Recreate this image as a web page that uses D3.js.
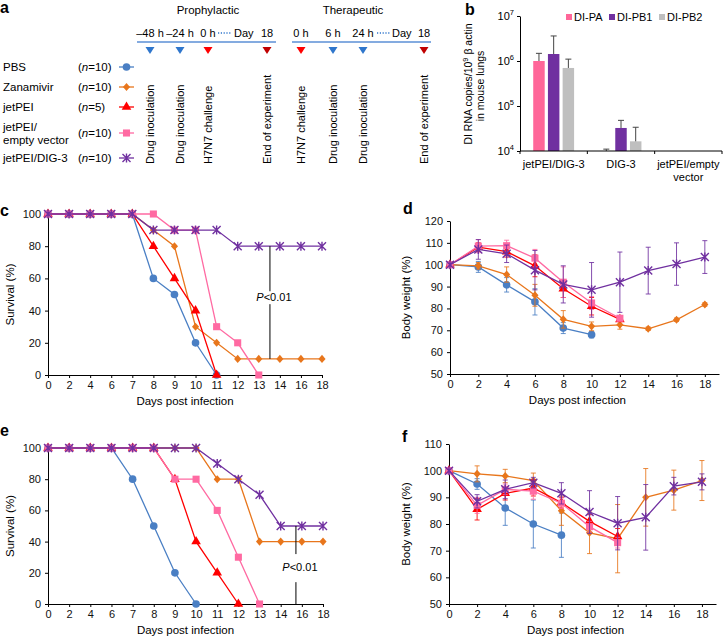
<!DOCTYPE html>
<html lang="en">
<head>
<meta charset="UTF-8">
<title>DIG-3 protection in mice</title>
<script src="https://d3js.org/d3.v7.min.js"></script>
<style>
  body { margin: 0; background: #fff; }
  svg { font-family: "Liberation Sans", Arial, sans-serif; }
  .tick text { font-size: 11px; fill: #111; }
  .domain, .tick line { stroke: #000; }
</style>
</head>
<body>
<svg width="723" height="642"></svg>
<script>
// ---------- data ----------
const groups = ["PBS", "Zanamivir", "jetPEI", "jetPEI/empty vector", "jetPEI/DIG-3"];
const groupN = [10, 10, 5, 10, 10];
const legendLines = [["PBS"], ["Zanamivir"], ["jetPEI"], ["jetPEI/", "empty vector"], ["jetPEI/DIG-3"]];
const groupColors = ["#4a7fc4", "#e8761c", "#ff0000", "#ff6aa2", "#7030a0"];

// panel a timeline
const proTimes = ["\u201348 h", "\u201324 h", "0 h", "18"];
const proEvents = ["Drug inoculation", "Drug inoculation", "H7N7 challenge", "End of experiment"];
const proKinds = ["drug", "drug", "challenge", "end"];
const therTimes = ["0 h", "6 h", "24 h", "18"];
const therEvents = ["H7N7 challenge", "Drug inoculation", "Drug inoculation", "End of experiment"];
const therKinds = ["challenge", "drug", "drug", "end"];

// panel b
const bCategories = ["jetPEI/DIG-3", "DIG-3", "jetPEI/empty vector"];
const bSeries = ["DI-PA", "DI-PB1", "DI-PB2"];
const bMeans = [[1.0e6, 1.43e6, 7.0e5], [1.0e4, 3.25e4, 1.64e4], [null, null, null]];
const bUpper = [[1.48e6, 3.6e6, 1.1e6], [1.1e4, 4.8e4, 3.37e4], [null, null, null]];
const bColors = ["#ff6699", "#7030a0", "#bfbfbf"];

// survival (c: prophylactic, e: therapeutic)
const survDays = ["0", "2", "4", "6", "7", "8", "9", "10", "11", "12", "13", "14", "16", "18"];
const survPro = [
  [100, 100, 100, 100, 100, 60, 50, 20, 0],
  [100, 100, 100, 100, 100, 90, 80, 30, 20, 10, 10, 10, 10, 10],
  [100, 100, 100, 100, 100, 80, 60, 40, 0],
  [100, 100, 100, 100, 100, 100, 90, 90, 30, 20, 0],
  [100, 100, 100, 100, 100, 90, 90, 90, 90, 80, 80, 80, 80, 80]
];
const survTher = [
  [100, 100, 100, 100, 80, 50, 20, 0],
  [100, 100, 100, 100, 100, 100, 100, 100, 80, 80, 40, 40, 40, 40],
  [100, 100, 100, 100, 100, 100, 80, 40, 20, 0],
  [100, 100, 100, 100, 100, 100, 80, 80, 60, 30, 0],
  [100, 100, 100, 100, 100, 100, 100, 100, 90, 80, 70, 50, 50, 50]
];

// body weight (d: prophylactic, f: therapeutic)
const weightDays = [0, 2, 4, 6, 8, 10, 12, 14, 16, 18];
const wProMean = [
  [100, 99, 90.8, 83, 71, 68],
  [100, 99.5, 95.5, 86, 75, 71.8, 72.5, 70.7, 74.8, 81.8],
  [100, 108, 106, 99.5, 89, 81, 75],
  [100, 108.5, 108.7, 103, 92, 82.5, 75.5],
  [100, 107, 105, 97.5, 91, 88.5, 92, 97.3, 100.3, 103.5]
];
const wProErr = [
  [0, 2.5, 3.3, 6, 2.5, 1.5],
  [0, 1.5, 3.5, 5, 4, 2, 2, 0.8, 0.8, 0.8],
  [0, 2, 2.5, 5, 4, 4, 1],
  [0, 3, 2.5, 4, 7, 3, 1],
  [0, 4.5, 4, 9, 8.5, 12.5, 13.8, 10.7, 9.7, 7.5]
];
const wTherMean = [
  [100, 95, 86, 80, 75.8],
  [100, 98.8, 98, 96.3, 85, 76.7, 74.5, 90, 92.7, 96.3],
  [100, 85.5, 91.5, 93.5, 88, 81, 75.3],
  [100, 87, 93, 92.3, 87.8, 79, 73],
  [100, 88.5, 93, 95.5, 91.5, 84.5, 80.3, 82.5, 94.2, 95.8]
];
const wTherErr = [
  [0, 2, 6.5, 9, 8.3],
  [0, 3, 2.5, 2.8, 5.5, 7.8, 12.8, 10.8, 7.5, 7.5],
  [0, 4, 2.5, 3, 2, 2.5, 3],
  [0, 3, 2, 3, 2, 2, 2],
  [0, 2.5, 3.5, 2, 4, 8, 10, 12.3, 3.3, 3]
];

// ---------- drawing ----------
const svg = d3.select("svg");

function panelLetter(t, x, y) {
  svg.append("text").attr("x", x).attr("y", y).attr("font-size", 16)
    .attr("font-weight", "bold").text(t);
}

// markers, one per group
function drawMarker(g, i, cx, cy) {
  const col = groupColors[i];
  if (i === 4) {
    const r = 4;
    g.append("path")
      .attr("d", `M${cx - r},${cy - r}L${cx + r},${cy + r}M${cx - r},${cy + r}L${cx + r},${cy - r}M${cx},${cy - r - 0.5}L${cx},${cy + r + 0.5}`)
      .attr("stroke", col).attr("stroke-width", 1.4).attr("fill", "none");
    return;
  }
  const types = [d3.symbolCircle, d3.symbolDiamond, d3.symbolTriangle, d3.symbolSquare];
  const sizes = [46, 26, 40, 50];
  g.append("path")
    .attr("d", d3.symbol().type(types[i]).size(sizes[i])())
    .attr("transform", i === 1 ? `translate(${cx},${cy}) scale(1.3,0.85)` : `translate(${cx},${cy})`)
    .attr("fill", col);
}

// ----- panel a -----
panelLetter("a", 0, 13);
svg.append("text").attr("x", 208).attr("y", 14).attr("text-anchor", "middle")
  .attr("font-size", 11.5).text("Prophylactic");
svg.append("text").attr("x", 353).attr("y", 14).attr("text-anchor", "middle")
  .attr("font-size", 11.5).text("Therapeutic");

const triColor = { drug: "#2f76cc", challenge: "#ff0000", end: "#c00000" };

function timeline(times, events, kinds, xs, lineX0, lineX1, dotX0, dotX1, dayX) {
  svg.append("line").attr("x1", lineX0).attr("x2", lineX1).attr("y1", 42).attr("y2", 42)
    .attr("stroke", "#5b8fd6").attr("stroke-width", 1.3);
  svg.append("line").attr("x1", dotX0).attr("x2", dotX1).attr("y1", 33).attr("y2", 33)
    .attr("stroke", "#2f76cc").attr("stroke-width", 1.3).attr("stroke-dasharray", "1.2,1.6");
  svg.append("text").attr("x", dayX).attr("y", 37).attr("font-size", 11).text("Day");
  xs.forEach((x, k) => {
    svg.append("text").attr("x", x).attr("y", 37).attr("text-anchor", "middle")
      .attr("font-size", 11).text(times[k]);
    svg.append("path").attr("d", `M${x - 4.5},47L${x + 4.5},47L${x},54Z`)
      .attr("fill", triColor[kinds[k]]);
    svg.append("text").attr("transform", `translate(${x + 4},164) rotate(-90)`)
      .attr("font-size", 11).text(events[k]);
  });
}
timeline(proTimes, proEvents, proKinds, [150, 180, 208, 267], 137, 276, 218, 231, 234);
timeline(therTimes, therEvents, therKinds, [301, 333, 363, 424], 292, 431, 377, 390, 392);

// legend
const legendY = [67, 87, 107, 133, 158];
groups.forEach((gname, i) => {
  const y = legendY[i];
  const lines = legendLines[i];
  lines.forEach((ln, k) => {
    const yy = lines.length > 1 ? y - 6 + k * 13 : y;
    svg.append("text").attr("x", 3).attr("y", yy + 4).attr("font-size", 11.5).text(ln);
  });
  const t = svg.append("text").attr("x", 78).attr("y", y + 4).attr("font-size", 11.5);
  t.append("tspan").text("(");
  t.append("tspan").attr("font-style", "italic").text("n");
  t.append("tspan").text("=" + groupN[i] + ")");
  svg.append("line").attr("x1", 119).attr("x2", 134).attr("y1", y).attr("y2", y)
    .attr("stroke", groupColors[i]).attr("stroke-width", 1.3);
  drawMarker(svg.append("g"), i, 126.5, y);
});

// ----- panel b -----
panelLetter("b", 465, 15);
{
  const x0 = 520, x1 = 722, yTop = 16, yBot = 151;
  const y = d3.scaleLog().domain([1e4, 1e7]).range([yBot, yTop]);
  const xb = d3.scaleBand().domain(bCategories).range([x0, x1]);
  const xi = d3.scaleBand().domain(bSeries).range([0, xb.bandwidth()])
    .paddingInner(0.22).paddingOuter(0.9);
  const g = svg.append("g");

  bCategories.forEach((c, ci) => {
    bSeries.forEach((s, si) => {
      const v = bMeans[ci][si];
      if (v == null) return;
      const bx = xb(c) + xi(s);
      g.append("rect").attr("x", bx).attr("width", xi.bandwidth())
        .attr("y", y(v)).attr("height", yBot - y(v)).attr("fill", bColors[si]);
      const cx = bx + xi.bandwidth() / 2;
      const u = bUpper[ci][si];
      g.append("line").attr("x1", cx).attr("x2", cx).attr("y1", y(v)).attr("y2", y(u))
        .attr("stroke", "#444").attr("stroke-width", 1);
      g.append("line").attr("x1", cx - 3).attr("x2", cx + 3).attr("y1", y(u)).attr("y2", y(u))
        .attr("stroke", "#444").attr("stroke-width", 1);
    });
  });

  const ya = g.append("g").attr("transform", `translate(${x0},0)`)
    .call(d3.axisLeft(y).tickValues([1e4, 1e5, 1e6, 1e7]).tickSize(3).tickSizeOuter(0).tickFormat(""));
  [4, 5, 6, 7].forEach(p => {
    const t = g.append("text").attr("x", x0 - 6).attr("y", y(Math.pow(10, p)) + 4)
      .attr("text-anchor", "end").attr("font-size", 11);
    t.append("tspan").text("10");
    t.append("tspan").attr("dy", -5).attr("font-size", 7.5).text(p);
  });
  g.append("line").attr("x1", x0).attr("x2", x1).attr("y1", yBot).attr("y2", yBot)
    .attr("stroke", "#000");
  [0, 1, 2, 3].forEach(k => {
    const xx = x0 + k * xb.bandwidth();
    g.append("line").attr("x1", xx).attr("x2", xx).attr("y1", yBot).attr("y2", yBot + 3)
      .attr("stroke", "#000");
  });
  const catLines = [["jetPEI/DIG-3"], ["DIG-3"], ["jetPEI/empty", "vector"]];
  bCategories.forEach((c, ci) => {
    catLines[ci].forEach((ln, k) => {
      g.append("text").attr("x", xb(c) + xb.bandwidth() / 2).attr("y", yBot + 17 + k * 13)
        .attr("text-anchor", "middle").attr("font-size", 11).text(ln);
    });
  });
  // legend
  const legX = [566, 609, 659];
  bSeries.forEach((s, si) => {
    g.append("rect").attr("x", legX[si]).attr("y", 14).attr("width", 6).attr("height", 6)
      .attr("fill", bColors[si]);
    g.append("text").attr("x", legX[si] + 8).attr("y", 21).attr("font-size", 11).text(s);
  });
  // y label
  const lab = g.append("text").attr("transform", "translate(472,84) rotate(-90)")
    .attr("text-anchor", "middle").attr("font-size", 10.5);
  lab.append("tspan").text("DI RNA copies/10");
  lab.append("tspan").attr("dy", -4).attr("font-size", 7.5).text("9");
  lab.append("tspan").attr("dy", 4).text(" \u03b2 actin");
  g.append("text").attr("transform", "translate(484,86) rotate(-90)")
    .attr("text-anchor", "middle").attr("font-size", 10.5).text("in mouse lungs");
}

// ----- survival panels -----
function survivalPanel(data, x0, x1, yTop, yBot, pDayA, pDayB, frac, pFrom, pTo, gapTop, gapBot, textY) {
  const x = d3.scalePoint().domain(survDays).range([x0, x1]);
  const y = d3.scaleLinear().domain([0, 100]).range([yBot, yTop]);
  const g = svg.append("g");
  g.append("g").attr("transform", `translate(0,${yBot})`)
    .call(d3.axisBottom(x).tickSize(3).tickSizeOuter(0).tickPadding(3));
  g.append("g").attr("transform", `translate(${x0},0)`)
    .call(d3.axisLeft(y).tickValues([0, 20, 40, 60, 80, 100]).tickSize(3).tickSizeOuter(0).tickPadding(4));

  const line = d3.line().x(d => x(d[0])).y(d => y(d[1]));
  data.forEach((vals, i) => {
    const pts = vals.map((v, k) => [survDays[k], v]);
    g.append("path").attr("d", line(pts)).attr("fill", "none")
      .attr("stroke", groupColors[i]).attr("stroke-width", 1.3);
    pts.forEach(p => drawMarker(g, i, x(p[0]), y(p[1])));
  });

  const xp = x(pDayA) + frac * (x(pDayB) - x(pDayA));
  g.append("line").attr("x1", xp).attr("x2", xp).attr("y1", y(pFrom)).attr("y2", y(gapTop))
    .attr("stroke", "#000").attr("stroke-width", 1);
  g.append("line").attr("x1", xp).attr("x2", xp).attr("y1", y(gapBot)).attr("y2", y(pTo))
    .attr("stroke", "#000").attr("stroke-width", 1);
  const t = g.append("text").attr("x", xp + 4).attr("y", y(textY)).attr("text-anchor", "middle")
    .attr("font-size", 11);
  t.append("tspan").attr("font-style", "italic").text("P");
  t.append("tspan").text("<0.01");

  g.append("text").attr("x", (x0 + x1) / 2).attr("y", yBot + 30).attr("text-anchor", "middle")
    .attr("font-size", 11.5).text("Days post infection");
  g.append("text").attr("transform", `translate(14,${(yTop + yBot) / 2}) rotate(-90)`)
    .attr("text-anchor", "middle").attr("font-size", 11.5).text("Survival (%)");
}

panelLetter("c", 0, 216);
survivalPanel(survPro, 48, 322, 214, 375, "13", "14", 0.53, 80, 10, 52, 44, 46);
panelLetter("e", 0, 436);
survivalPanel(survTher, 48, 323, 448, 604, "14", "16", 0.72, 50, 0, 32, 14, 21);

// ----- weight panels -----
function weightPanel(means, errs, x0, x1, yTop, yBot, yMax) {
  const x = d3.scaleLinear().domain([0, 19]).range([x0, x1]);
  const y = d3.scaleLinear().domain([50, yMax]).range([yBot, yTop]);
  const g = svg.append("g");
  g.append("g").attr("transform", `translate(0,${yBot})`)
    .call(d3.axisBottom(x).tickValues(weightDays).tickSize(3).tickSizeOuter(0).tickPadding(3));
  g.append("g").attr("transform", `translate(${x0},0)`)
    .call(d3.axisLeft(y).ticks((yMax - 50) / 10).tickSize(3).tickSizeOuter(0).tickPadding(4));

  const line = d3.line().x(d => x(d[0])).y(d => y(d[1]));
  means.forEach((vals, i) => {
    const col = groupColors[i];
    const pts = vals.map((v, k) => [weightDays[k], v, errs[i][k]]);
    pts.forEach(p => {
      if (!p[2]) return;
      const cx = x(p[0]);
      g.append("line").attr("x1", cx).attr("x2", cx).attr("y1", y(p[1] - p[2])).attr("y2", y(p[1] + p[2]))
        .attr("stroke", col).attr("stroke-width", 1).attr("opacity", 0.85);
      [p[1] - p[2], p[1] + p[2]].forEach(e => {
        g.append("line").attr("x1", cx - 2.5).attr("x2", cx + 2.5).attr("y1", y(e)).attr("y2", y(e))
          .attr("stroke", col).attr("stroke-width", 1).attr("opacity", 0.85);
      });
    });
    g.append("path").attr("d", line(pts)).attr("fill", "none")
      .attr("stroke", col).attr("stroke-width", 1.3);
    pts.forEach(p => drawMarker(g, i, x(p[0]), y(p[1])));
  });

  g.append("text").attr("x", (x0 + x(18)) / 2).attr("y", yBot + 30).attr("text-anchor", "middle")
    .attr("font-size", 11.5).text("Days post infection");
  g.append("text").attr("transform", `translate(410,${(yTop + yBot) / 2}) rotate(-90)`)
    .attr("text-anchor", "middle").attr("font-size", 11.5).text("Body weight (%)");
}

panelLetter("d", 403, 214);
weightPanel(wProMean, wProErr, 450, 719, 221, 374, 120);
panelLetter("f", 402, 442);
weightPanel(wTherMean, wTherErr, 449, 716, 444, 604, 110);
</script>
</body>
</html>
